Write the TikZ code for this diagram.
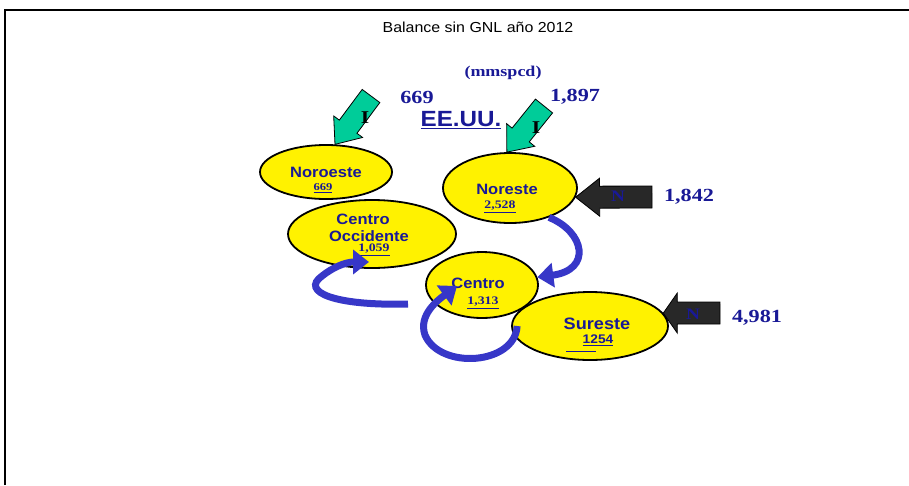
\documentclass[tikz,border=0pt]{standalone}
\usepackage{fontspec}
\setmainfont[FakeStretch=1.2]{Liberation Serif}
\setsansfont[FakeStretch=1.1]{Liberation Sans}
\usepackage{tikz}
\usetikzlibrary{calc, arrows.meta, shapes.geometric}
\definecolor{azul}{RGB}{25,25,150}
\definecolor{azulflecha}{RGB}{55,55,200}
\definecolor{verde}{RGB}{0,204,153}
\definecolor{gris}{RGB}{40,40,40}
\tikzstyle{region} = [ellipse, draw, line width=1.8pt, fill=yellow, inner sep=0pt]
\tikzstyle{nombre} = [text=azul, inner sep=0pt, font=\sffamily\bfseries\fontsize{15}{16}\selectfont]
\tikzstyle{valor} = [text=azul, inner sep=0pt, font=\bfseries\fontsize{11.5}{12}\selectfont]
\tikzstyle{cifra} = [text=azul, inner sep=0pt, font=\bfseries\fontsize{18.5}{20}\selectfont]
\tikzstyle{letra} = [inner sep=0pt, font=\bfseries\fontsize{18}{18}\selectfont]
\tikzstyle{flujo} = [draw=azulflecha, line width=7pt, -{Triangle[length=16pt,width=24pt]}]
\tikzstyle{importa} = [fill=verde, draw=black, line width=0.8pt]
\tikzstyle{nacional} = [fill=gris, draw=black, line width=0.8pt]

% block arrow: tail, tip, shaft half width, head half width, head length, style
\newcommand{\flechabloque}[6]{%
  \coordinate (h) at ($(#2)!#5!(#1)$);
  \draw[#6] ($(#1)!#3!90:(#2)$) -- ($(h)!#3!-90:(#1)$) -- ($(h)!#4!-90:(#1)$)
    -- (#2) -- ($(h)!#4!90:(#1)$) -- ($(h)!#3!90:(#1)$) -- ($(#1)!#3!-90:(#2)$) -- cycle;
}

\begin{document}
\begin{tikzpicture}[x=1pt, y=-1pt]
    \useasboundingbox (0,0) rectangle (909,485);
    \draw[line width=2pt] (5,485) -- (5,10) -- (909,10);
    \node (title) [font=\sffamily\fontsize{14.5}{15}\selectfont] at (478,27) {Balance sin GNL año 2012};

    % regions
    \node (NO) [region, minimum width=132, minimum height=54] at (326,172) {};
    \node (NE) [region, minimum width=134, minimum height=70] at (510,188) {};
    \node (CO) [region, minimum width=168, minimum height=68] at (372,234) {};
    \node (CE) [region, minimum width=112, minimum height=66] at (482,285) {};
    \node (SE) [region, minimum width=156, minimum height=68] at (590,326) {};

    \node (noNombre) [nombre] at (326,172) {Noroeste};
    \node (noValor) [valor, font=\bfseries\fontsize{10.5}{11}\selectfont] at (323,188) {\underline{669}};
    \node (neNombre) [nombre] at (507,189) {Noreste};
    \node (neValor) [valor] at (500,207) {\underline{2,528}};
    \node (coNombre) [nombre] at (363,219) {Centro};
    \node (coNombreB) [nombre] at (369,236) {Occidente};
    \node (coValor) [valor] at (374,250) {\underline{1,059}};
    \node (ceNombre) [nombre] at (478,283) {Centro};
    \node (ceValor) [valor] at (483,303) {\underline{1,313}};
    \node (seNombre) [nombre, font=\sffamily\bfseries\fontsize{16.5}{17}\selectfont] at (597,324) {Sureste};
    \node (seValor) [nombre, font=\sffamily\bfseries\fontsize{12.5}{13}\selectfont] at (598,340) {\underline{1254}};
    \draw[azul, line width=1pt] (566,351) -- (596,351);

    % imports and national supply
    \coordinate (iNO) at (371,96);
    \coordinate (iNE) at (544,106);
    \coordinate (nNE) at (652,197);
    \coordinate (nSE) at (720,313);
    \flechabloque{iNO}{NO.72}{11pt}{18pt}{22pt}{importa}
    \flechabloque{iNE}{NE.95}{11pt}{18pt}{22pt}{importa}
    \flechabloque{nNE}{NE.-8}{11pt}{19pt}{24pt}{nacional}
    \flechabloque{nSE}{SE.10}{11pt}{20pt}{14pt}{nacional}
    \node (iNOtxt) [letra] at (365,118) {I};
    \node (iNEtxt) [letra] at (536,128) {I};
    \node (nNEtxt) [letra, text=azul, font=\bfseries\fontsize{16}{16}\selectfont] at (618,196) {N};
    \node (nSEtxt) [letra, text=azul, font=\bfseries\fontsize{16}{16}\selectfont] at (693,314) {N};

    \node (mmspcd) [text=azul, font=\bfseries\fontsize{15}{16}\selectfont] at (503,73) {(mmspcd)};
    \node (ee) [text=azul, font=\sffamily\bfseries\fontsize{22}{23}\selectfont] at (461,120) {\underline{EE.UU.}};
    \node (vNO) [cifra] at (417,97) {669};
    \node (vNE) [cifra] at (575,97) {1,897};
    \node (vN1) [cifra] at (689,197) {1,842};
    \node (vN2) [cifra] at (757,318) {4,981};

    % flows between regions
    \coordinate (coIn) at (369,262);
    \coordinate (coOut) at (408,304);
    \coordinate (ceIn) at (457,286);
    \draw[flujo] (coOut) .. controls (335,306) and (300,292) .. (322,276) .. controls (332,268) and (345,262) .. (coIn);
    \draw[flujo] (NE.-37) .. controls (585,232) and (592,270) .. (CE.8);
    \draw[flujo] ($(SE.west)+(6,0)$) .. controls (515,365) and (440,370) .. (425,335) .. controls (418,315) and (438,300) .. (ceIn);
\end{tikzpicture}
\end{document}
